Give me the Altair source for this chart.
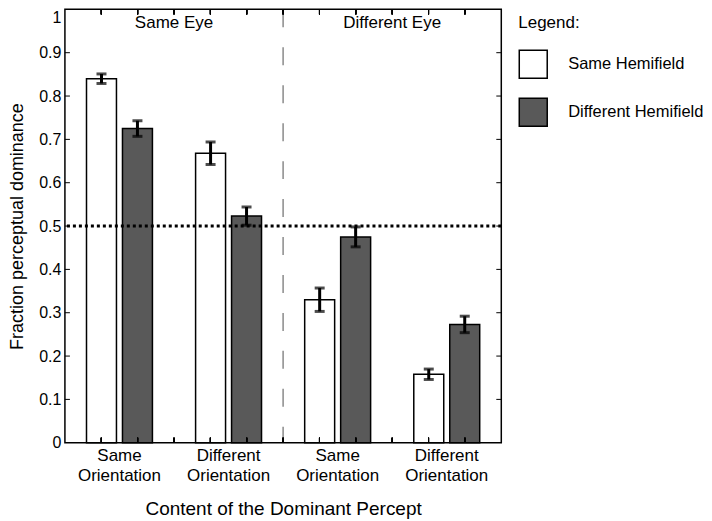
import altair as alt
import pandas as pd

# ---- data ----
groups = ["Same Eye|Same Orientation", "Same Eye|Different Orientation",
          "Different Eye|Same Orientation", "Different Eye|Different Orientation"]
hemifields = ["Same Hemifield", "Different Hemifield"]
same_hemi = [0.840, 0.668, 0.330, 0.158]
diff_hemi = [0.725, 0.523, 0.475, 0.273]
same_err = [0.011, 0.026, 0.027, 0.012]
diff_err = [0.018, 0.021, 0.023, 0.019]
eye_labels = ["Same Eye", "Different Eye"]
eye_anchor = [groups[1], groups[3]]
divider = [groups[2]]
y_ticks = [0, 0.1, 0.2, 0.3, 0.4, 0.5, 0.6, 0.7, 0.8, 0.9, 1]
chance = [0.5]

W, H = 437, 434
FONT = "Liberation Sans"

rows = []
for g, v1, v2, e1, e2 in zip(groups, same_hemi, diff_hemi, same_err, diff_err):
    rows.append(dict(group=g, hemi=hemifields[0], value=v1, lo=v1 - e1, hi=v1 + e1))
    rows.append(dict(group=g, hemi=hemifields[1], value=v2, lo=v2 - e2, hi=v2 + e2))
df = pd.DataFrame(rows)

xscale = alt.Scale(domain=groups, paddingInner=0, paddingOuter=0)
xaxis = alt.Axis(title="Content of the Dominant Percept",
                 labelExpr="split(split(datum.label, '|')[1], ' ')",
                 labelAngle=0, ticks=False, domain=False, labelFontSize=17,
                 labelLineHeight=20, labelPadding=5, labelColor="black",
                 titleFontSize=19, titleFontWeight="normal", titleColor="black",
                 titlePadding=16)
x = alt.X("group:N", sort=groups, scale=xscale, axis=xaxis)
xoff = alt.XOffset("hemi:N", sort=hemifields,
                   scale=alt.Scale(domain=hemifields, paddingInner=0.167, paddingOuter=0.6))
yscale = alt.Scale(domain=[0, 1], nice=False)
yaxis = alt.Axis(title="Fraction perceptual dominance", values=y_ticks, format="~g",
                 grid=False, ticks=False, domain=False, labelFontSize=16,
                 labelPadding=4,
                 labelBaseline={"condition": {"test": "datum.value == 1", "value": "top"},
                                "value": "middle"},
                 labelColor="black", titleFontSize=18,
                 titleFontWeight="normal", titleColor="black", titlePadding=12)

base = alt.Chart(df)

bars = base.mark_bar(stroke="black", strokeWidth=1.5).encode(
    x=x, xOffset=xoff,
    y=alt.Y("value:Q", scale=yscale, axis=yaxis),
    fill=alt.Fill("hemi:N", sort=hemifields,
                  scale=alt.Scale(domain=hemifields, range=["white", "#595959"]),
                  legend=alt.Legend(title="Legend:", titleFontWeight="normal",
                                    titleFontSize=17, titleColor="black",
                                    labelFontSize=16.5, labelColor="black",
                                    symbolType="square", symbolSize=784,
                                    symbolStrokeColor="black", symbolStrokeWidth=1.5,
                                    orient="none", legendX=454, legendY=6,
                                    labelOffset=20, rowPadding=14,
                                    titlePadding=17)),
)

err = base.mark_rule(color="black", strokeWidth=3).encode(
    x=alt.X("group:N", sort=groups, scale=xscale), xOffset=xoff,
    y=alt.Y("lo:Q", scale=yscale), y2="hi:Q")
cap_lo = base.mark_tick(color="black", thickness=3, size=10).encode(
    x=alt.X("group:N", sort=groups, scale=xscale), xOffset=xoff,
    y=alt.Y("lo:Q", scale=yscale))
cap_hi = base.mark_tick(color="black", thickness=3, size=10).encode(
    x=alt.X("group:N", sort=groups, scale=xscale), xOffset=xoff,
    y=alt.Y("hi:Q", scale=yscale))

chance_line = alt.Chart(pd.DataFrame({"v": chance})).mark_rule(
    color="black", strokeWidth=3, strokeDash=[3, 3]).encode(
    y=alt.Y("v:Q", scale=yscale))

div_line = alt.Chart(pd.DataFrame({"g": divider})).mark_rule(
    color="#8a8a8a", strokeWidth=1.5, strokeDash=[18, 20]).encode(
    x=alt.X("g:N", sort=groups, scale=xscale, bandPosition=0))

eye_text = alt.Chart(pd.DataFrame({"g": eye_anchor, "t": eye_labels})).mark_text(
    fontSize=17, baseline="middle", align="center", color="black").encode(
    x=alt.X("g:N", sort=groups, scale=xscale, bandPosition=0),
    y=alt.value(14), text="t:N")

ytick_df = pd.DataFrame({"v": y_ticks[1:-1]})
left_ticks = alt.Chart(ytick_df).mark_rule(color="black", strokeWidth=1).encode(
    y=alt.Y("v:Q", scale=yscale), x=alt.value(0), x2=alt.value(5))
right_ticks = alt.Chart(ytick_df).mark_rule(color="black", strokeWidth=1).encode(
    y=alt.Y("v:Q", scale=yscale), x=alt.value(W - 5), x2=alt.value(W))

layers = [bars, err, cap_lo, cap_hi, chance_line, div_line, eye_text, left_ticks, right_ticks]
for k in range(1, 12):
    px = W * k / 12
    layers.append(alt.Chart(ytick_df).mark_rule(color="black", strokeWidth=1).encode(
        x=alt.value(px), y=alt.value(0), y2=alt.value(5)))
    layers.append(alt.Chart(ytick_df).mark_rule(color="black", strokeWidth=1).encode(
        x=alt.value(px), y=alt.value(H - 5), y2=alt.value(H)))

chart = alt.layer(*layers).properties(width=W, height=H, padding=0).configure(
    font=FONT
).configure_view(stroke="black", strokeWidth=1.5)

chart.save("out.html", embed_options={"renderer": "svg", "actions": False})
